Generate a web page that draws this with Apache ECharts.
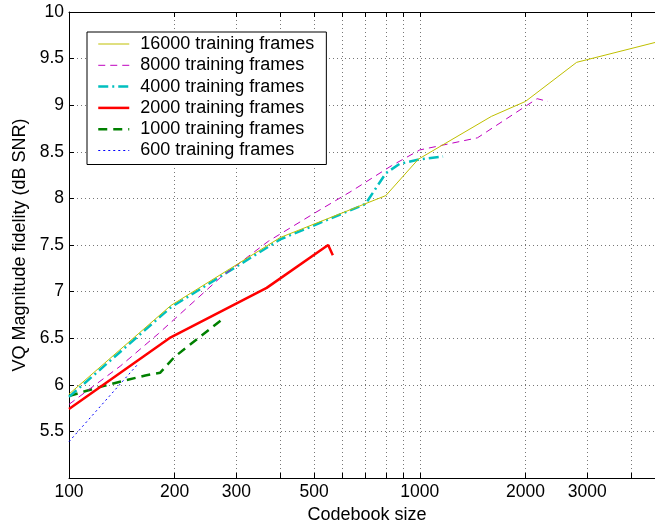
<!DOCTYPE html>
<html>
<head>
<meta charset="utf-8">
<script src="https://cdn.jsdelivr.net/npm/echarts@6/dist/echarts.min.js"></script>
<style>
html,body{margin:0;padding:0;background:#fff;overflow:hidden;width:655px;height:529px;}
#chart{width:672px;height:529px;}
</style>
</head>
<body>
<div id="chart"></div>
<script>
// ---- data ----
const seriesNames = ['16000 training frames','8000 training frames','4000 training frames','2000 training frames','1000 training frames','600 training frames'];

const size16000 = [100, 195, 400, 800, 990, 1600, 2000, 2800, 5000];
const snr16000  = [5.90, 6.85, 7.58, 8.03, 8.42, 8.88, 9.04, 9.46, 9.70];

const size8000 = [100, 140, 180, 270, 370, 500, 640, 830, 1000, 1460, 2160, 2320];
const snr8000  = [5.79, 6.20, 6.55, 7.15, 7.54, 7.84, 8.08, 8.35, 8.52, 8.65, 9.07, 9.04];

const size4000 = [100, 195, 400, 700, 800, 875, 1000, 1165];
const snr4000  = [5.87, 6.83, 7.56, 7.94, 8.27, 8.37, 8.42, 8.45];

const size2000 = [100, 195, 366, 548, 565];
const snr2000  = [5.74, 6.51, 7.04, 7.50, 7.39];

const size1000 = [100, 126, 165, 182, 200, 275];
const snr1000  = [5.88, 5.99, 6.10, 6.13, 6.30, 6.71];

const size600 = [100, 157];
const snr600  = [5.39, 6.22];

const xLabelValues = [100, 200, 300, 500, 1000, 2000, 3000];
const xTickValues  = [100, 200, 300, 400, 500, 600, 700, 800, 900, 1000, 2000, 3000, 4000, 5000];
const xMin = 100, xMax = 5000;
const yMin = 5, yMax = 10, yStep = 0.5;

// ---- build ----
const zip = (xs, ys) => xs.map((x, i) => [x, ys[i]]);
const allSizes = [size16000, size8000, size4000, size2000, size1000, size600];
const allSnr   = [snr16000, snr8000, snr4000, snr2000, snr1000, snr600];
const colors = ['#bfbf00', '#bf00bf', '#00bfbf', '#ff0000', '#008000', '#0000ff'];
const widths = [1, 1, 2.5, 2.5, 2.5, 1];
const types  = ['solid', [7, 5], [10, 4, 2, 4], 'solid', [9, 6], [2, 3]];

const FONT = '"Liberation Sans", Arial, Helvetica, sans-serif';

const chart = echarts.init(document.getElementById('chart'), null, {renderer: 'canvas'});

const series = seriesNames.map((name, i) => ({
  name: name,
  type: 'line',
  xAxisIndex: 0,
  yAxisIndex: 0,
  data: zip(allSizes[i], allSnr[i]),
  symbol: 'none',
  showSymbol: false,
  animation: false,
  lineStyle: {color: colors[i], width: widths[i], type: types[i]},
  itemStyle: {color: colors[i]},
  z: 10 - i
}));

const gridLine = {show: true, lineStyle: {color: '#777', width: 1, type: [1, 3]}};

chart.setOption({
  backgroundColor: '#fff',
  animation: false,
  grid: {left: 69, top: 12, width: 596, height: 470, containLabel: false},
  legend: {
    orient: 'vertical',
    left: 87,
    top: 32,
    backgroundColor: '#fff',
    borderColor: '#000',
    borderWidth: 1,
    borderRadius: 0,
    padding: [3, 12, 5, 10],
    itemWidth: 31,
    itemHeight: 14,
    itemGap: 3.3,
    textStyle: {fontFamily: FONT, fontSize: 18, color: '#000', lineHeight: 18, padding: [0, 0, 0, 6]},
    data: seriesNames.map((n, i) => ({
      name: n,
      lineStyle: {color: colors[i], width: widths[i], type: types[i]},
      itemStyle: {color: colors[i], opacity: 0}
    })),
    z: 20
  },
  xAxis: [
    {
      type: 'log',
      logBase: 10,
      min: xMin,
      max: xMax,
      position: 'bottom',
      name: 'Codebook size',
      nameLocation: 'middle',
      nameGap: 28,
      nameTextStyle: {fontFamily: FONT, fontSize: 18, color: '#000'},
      axisLine: {show: true, lineStyle: {color: '#000', width: 1}},
      axisTick: {show: true, inside: true, length: 5, customValues: xTickValues, lineStyle: {color: '#000'}},
      axisLabel: {show: true, customValues: xLabelValues, fontFamily: FONT, fontSize: 17.5, color: '#000', margin: 5,
        formatter: v => String(Math.round(v))},
      splitLine: gridLine,
      minorTick: {show: false},
      minorSplitLine: {show: false}
    },
    {
      type: 'log',
      logBase: 10,
      min: xMin,
      max: xMax,
      position: 'top',
      axisLine: {show: true, lineStyle: {color: '#000', width: 1}},
      axisTick: {show: true, inside: true, length: 5, customValues: xTickValues, lineStyle: {color: '#000'}},
      axisLabel: {show: false},
      splitLine: {show: false}
    }
  ],
  yAxis: [
    {
      type: 'value',
      min: yMin,
      max: yMax,
      interval: yStep,
      position: 'left',
      name: 'VQ Magnitude fidelity (dB SNR)',
      nameLocation: 'middle',
      nameGap: 40,
      nameRotate: 90,
      nameTextStyle: {fontFamily: FONT, fontSize: 18, color: '#000'},
      axisLine: {show: true, lineStyle: {color: '#000', width: 1}},
      axisTick: {show: true, inside: true, length: 5, lineStyle: {color: '#000'}},
      axisLabel: {
        fontFamily: FONT, fontSize: 17.5, color: '#000', margin: 5,
        formatter: v => (v === yMin ? '' : String(v))
      },
      splitLine: gridLine
    }
  ],
  series: series
});
</script>
</body>
</html>
